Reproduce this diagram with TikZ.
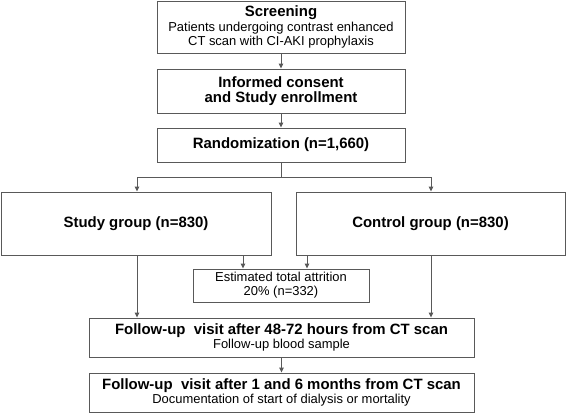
\documentclass[tikz,border=0pt]{standalone}
\usepackage{fontspec}
\setmainfont{Liberation Sans}
\usetikzlibrary{arrows.meta}
\newcommand{\btxt}[1]{{\fontsize{15}{15}\selectfont\bfseries #1}}
\newcommand{\rtxt}[1]{{\fontsize{13}{14}\selectfont #1}}
\begin{document}
\begin{tikzpicture}[x=1bp,y=-1bp,
  box/.style={draw=black!65, line width=0.9bp, fill=white, inner sep=0pt, align=center, text=black},
  arr/.style={draw=black!65, line width=0.9bp, -{Stealth[length=5bp,width=4.5bp,inset=0bp]}},
  ln/.style={draw=black!65, line width=0.9bp},
  bt/.style={font=\fontsize{15}{15.5}\selectfont\bfseries},
  rt/.style={font=\fontsize{13}{14}\selectfont}]
\useasboundingbox (0,0) rectangle (567,414);
\node[box, font=\fontsize{13}{14.5}\selectfont, minimum width=248bp, minimum height=52bp] (scr) at (281,27)
  {\btxt{Screening}\\ \rtxt{Patients undergoing contrast enhanced}\\ \rtxt{CT scan with CI-AKI prophylaxis}};
\node[box, bt, minimum width=248bp, minimum height=44bp] (inf) at (281,91)
  {Informed consent\\ and Study enrollment};
\node[box, bt, minimum width=248bp, minimum height=34bp] (rnd) at (281,145)
  {Randomization (n=1,660)};
\node[box, bt, minimum width=270bp, minimum height=63bp] (stu) at (136,223.5)
  {Study group (n=830)};
\node[box, bt, minimum width=269bp, minimum height=63bp] (con) at (430.5,223.5)
  {Control group (n=830)};
\node[box, rt, minimum width=176bp, minimum height=33bp] (att) at (281,285.5)
  {Estimated total attrition\\ 20\% (n=332)};
\node[box, font=\fontsize{13}{13.5}\selectfont, minimum width=385bp, minimum height=39bp] (fu1) at (281.5,337.5)
  {\btxt{Follow-up\ \ visit after 48-72 hours from CT scan}\\ \rtxt{Follow-up blood sample}};
\node[box, font=\fontsize{13}{13.5}\selectfont, minimum width=385bp, minimum height=39bp] (fu2) at (281.5,392.5)
  {\btxt{Follow-up\ \ visit after 1 and 6 months from CT scan}\\ \rtxt{Documentation of start of dialysis or mortality}};
\coordinate (br) at (281,177);
\coordinate (xa) at (243,0);
\coordinate (xb) at (307,0);
\coordinate (xl) at (137,0);
\coordinate (xr) at (431,0);
\draw[arr] (scr) -- (inf);
\draw[arr] (inf) -- (rnd);
\draw[ln] (rnd) -- (br);
\draw[arr] (br) -| (stu.north -| xl);
\draw[arr] (br) -| (con.north -| xr);
\draw[arr] (stu.south -| xa) -- (att.north -| xa);
\draw[arr] (con.south -| xb) -- (att.north -| xb);
\draw[arr] (stu.south -| xl) -- (fu1.north -| xl);
\draw[arr] (con.south -| xr) -- (fu1.north -| xr);
\draw[arr] (fu1) -- (fu2);
\end{tikzpicture}
\end{document}
